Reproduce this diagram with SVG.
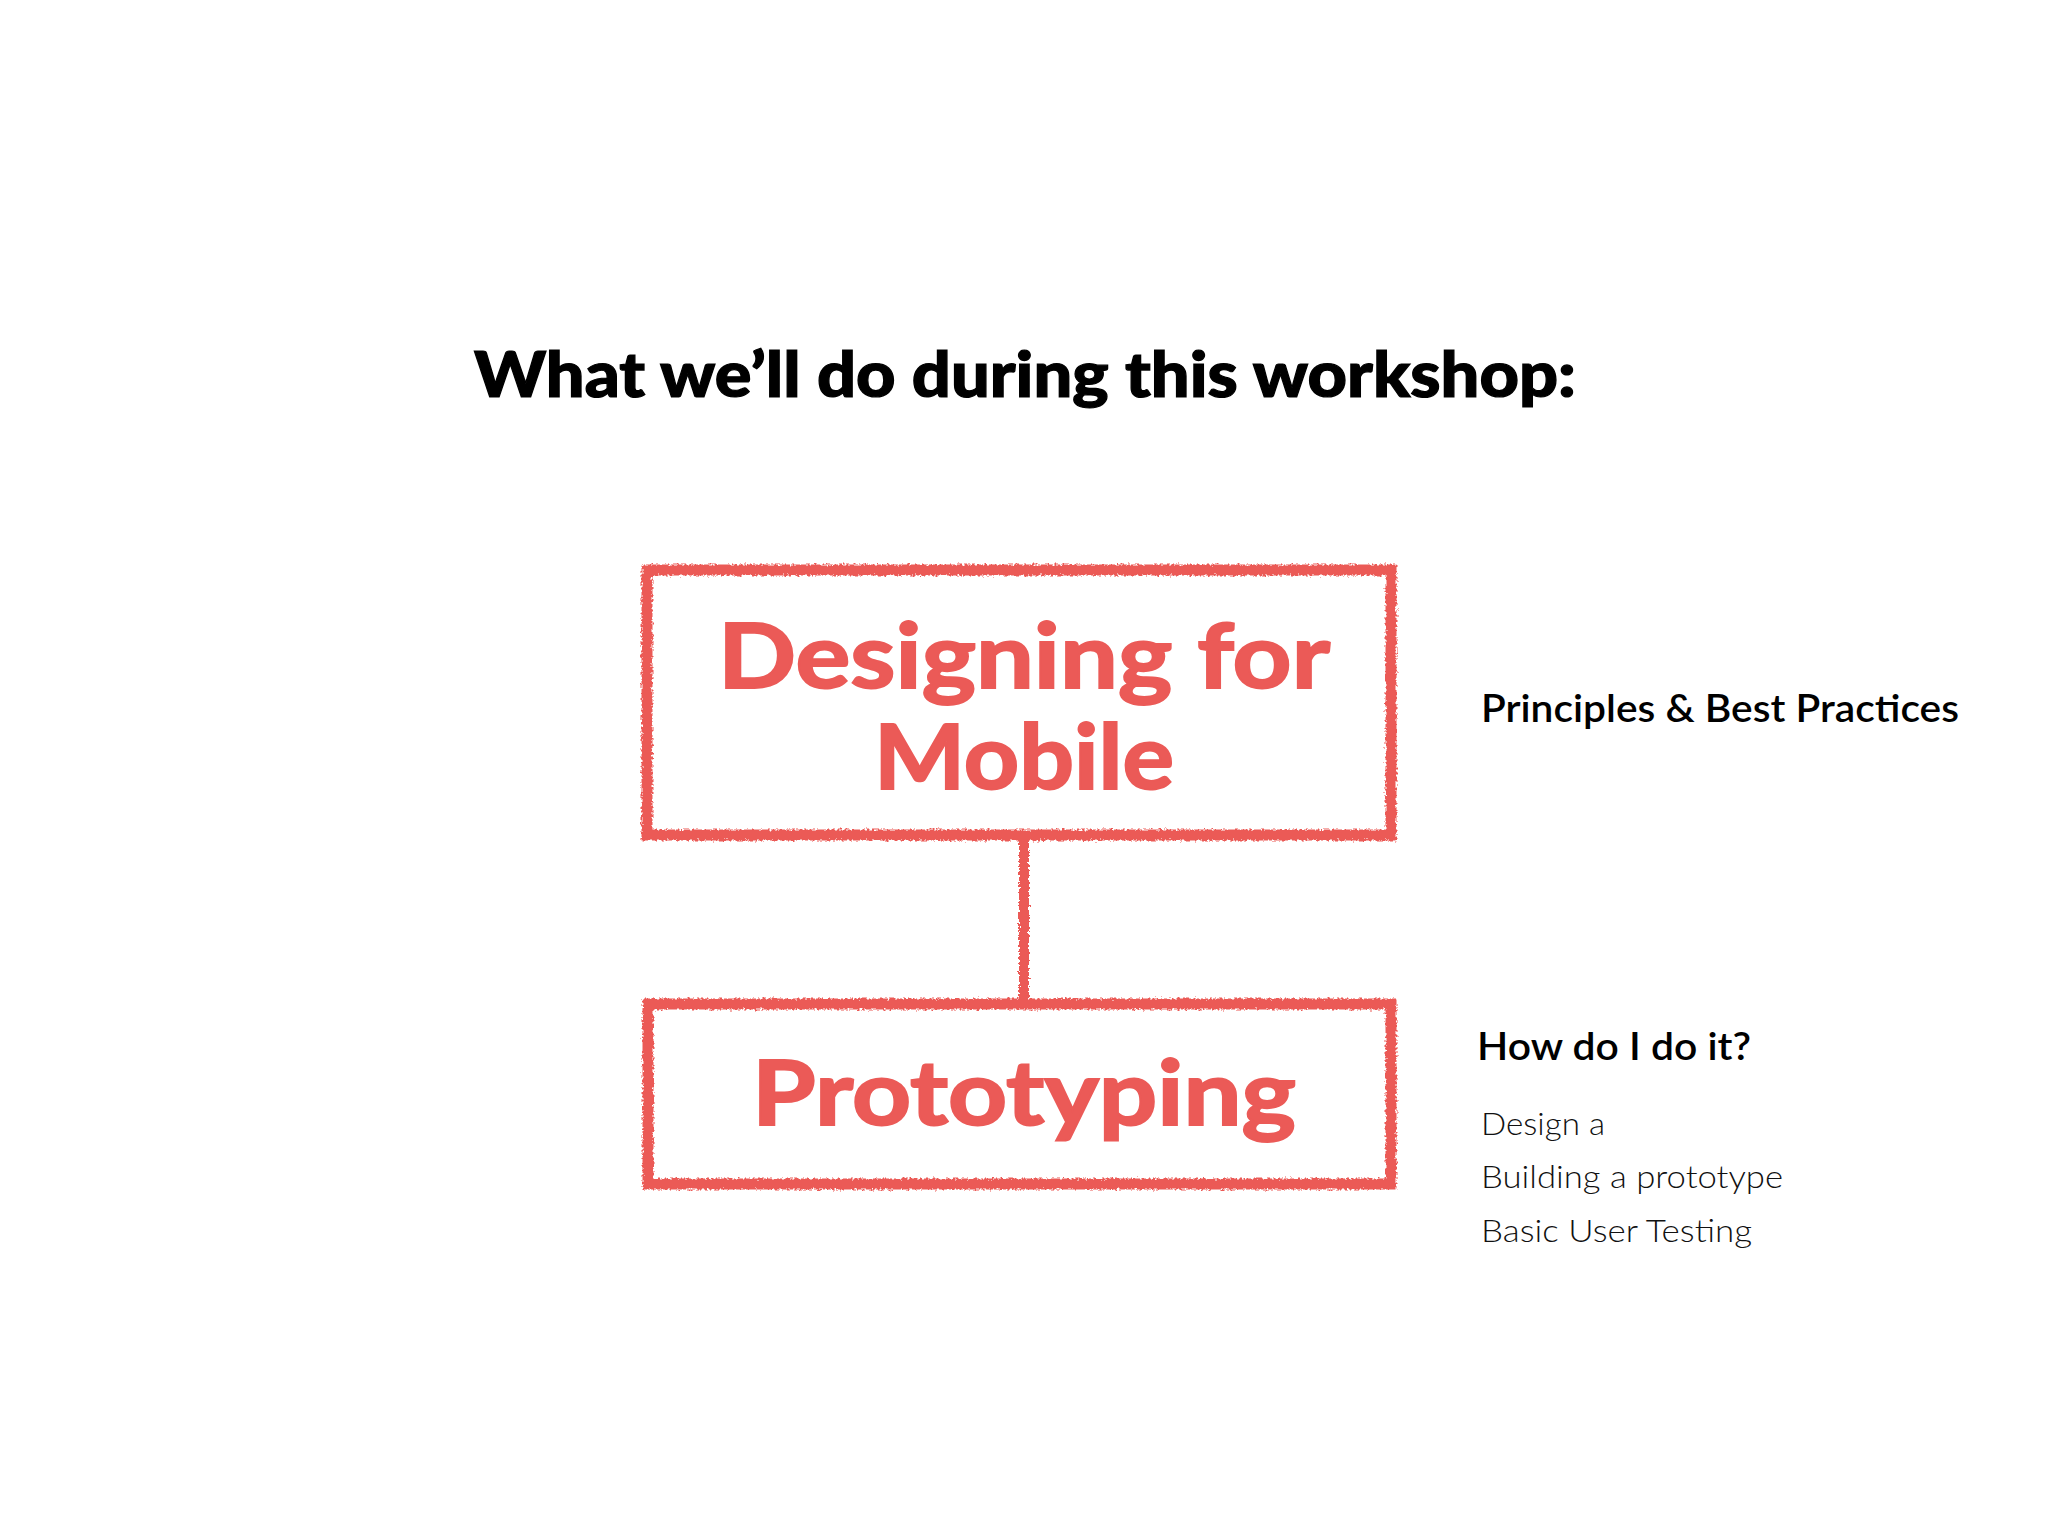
<svg xmlns="http://www.w3.org/2000/svg" width="2048" height="1536" viewBox="0 0 2048 1536">
<defs>
<filter id="chalk" x="-5%" y="-5%" width="110%" height="110%">
<feTurbulence type="fractalNoise" baseFrequency="0.4" numOctaves="2" seed="3" result="n"/>
<feDisplacementMap in="SourceGraphic" in2="n" scale="6" xChannelSelector="R" yChannelSelector="G"/>
</filter>
<filter id="chalkLine" filterUnits="userSpaceOnUse" x="1000" y="820" width="50" height="200">
<feTurbulence type="fractalNoise" baseFrequency="0.4" numOctaves="2" seed="5" result="n"/>
<feDisplacementMap in="SourceGraphic" in2="n" scale="6" xChannelSelector="R" yChannelSelector="G"/>
</filter>
<style>
.box{fill:#fff;stroke:#EB5A57;stroke-width:11}
.conn{stroke:#EB5A57;stroke-width:10;fill:none}
.lbl{font-family:Lato,"Open Sans","Liberation Sans",sans-serif;font-weight:700;font-size:90px;fill:#EB5A57;stroke:#EB5A57;stroke-width:2;text-anchor:middle}
.title{font-family:Lato,"Open Sans","Liberation Sans",sans-serif;font-weight:900;font-size:62px;fill:#000;stroke:#000;stroke-width:1.2}
.h2{font-family:Lato,"Open Sans","Liberation Sans",sans-serif;font-weight:600;font-size:38px;fill:#000}
.item{font-family:Lato,"Open Sans","Liberation Sans",sans-serif;font-weight:300;font-size:31px;fill:#111}
</style>
</defs>
<rect width="2048" height="1536" fill="#fff"/>
<text class="title" x="474" y="397" textLength="1102" lengthAdjust="spacingAndGlyphs">What we’ll do during this workshop:</text>
<g id="connectors">
<path class="conn" d="M1024 838 L1024 1001" filter="url(#chalkLine)"/>
</g>
<g id="node-designing">
<rect class="box" x="647" y="570" width="744" height="265" filter="url(#chalk)"/>
<text class="lbl" x="1024" y="688" textLength="612" lengthAdjust="spacingAndGlyphs">Designing for</text>
<text class="lbl" x="1024" y="789" textLength="300" lengthAdjust="spacingAndGlyphs">Mobile</text>
</g>
<g id="node-prototyping">
<rect class="box" x="648" y="1004" width="743" height="180" filter="url(#chalk)"/>
<text class="lbl" x="1024" y="1125" textLength="544" lengthAdjust="spacingAndGlyphs">Prototyping</text>
</g>
<g id="notes-designing">
<text class="h2" x="1481" y="722" textLength="478" lengthAdjust="spacingAndGlyphs">Principles &amp; Best Practices</text>
</g>
<g id="notes-prototyping">
<text class="h2" x="1477" y="1060" textLength="274" lengthAdjust="spacingAndGlyphs">How do I do it?</text>
<text class="item" x="1481" y="1135" textLength="124" lengthAdjust="spacingAndGlyphs">Design a</text>
<text class="item" x="1481" y="1188" textLength="302" lengthAdjust="spacingAndGlyphs">Building a prototype</text>
<text class="item" x="1481" y="1242" textLength="271" lengthAdjust="spacingAndGlyphs">Basic User Testing</text>
</g>
</svg>
